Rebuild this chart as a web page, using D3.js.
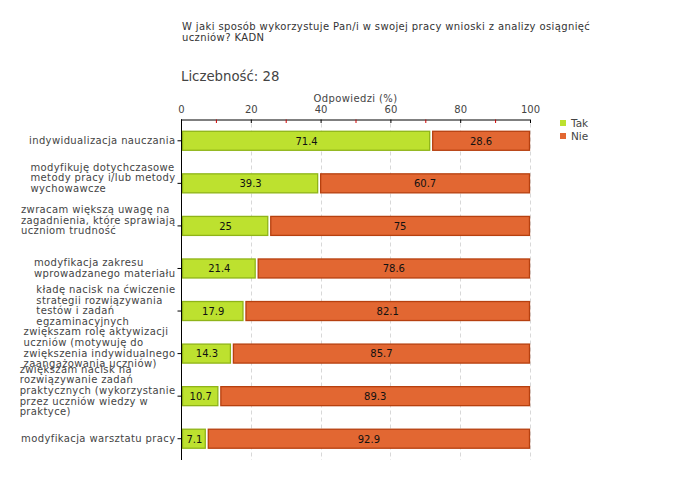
<!DOCTYPE html>
<html><head><meta charset="utf-8">
<script src="https://cdn.jsdelivr.net/npm/d3@7"></script>
<style>body{margin:0;background:#fff}svg{display:block}text{font-family:"DejaVu Sans",sans-serif}</style>
</head><body><svg id="c" width="680" height="480"></svg>
<script>
const titleLines = ["W jaki sposób wykorzystuje Pan/i w swojej pracy wnioski z analizy osiągnięć", "uczniów? KADN"];
const countLabel = "Liczebność: 28";
const axisTitle = "Odpowiedzi (%)";
const categories = [
  "indywidualizacja nauczania",
  "modyfikuję dotychczasowe\nmetody pracy i/lub metody\nwychowawcze",
  "zwracam większą uwagę na\nzagadnienia, które sprawiają\nuczniom trudność",
  "modyfikacja zakresu\nwprowadzanego materiału",
  "kładę nacisk na ćwiczenie\nstrategii rozwiązywania\ntestów i zadań\negzaminacyjnych",
  "zwiększam rolę aktywizacji\nuczniów (motywuję do\nzwiększenia indywidualnego\nzaangażowania uczniów)",
  "zwiększam nacisk na\nrozwiązywanie zadań\npraktycznych (wykorzystanie\nprzez uczniów wiedzy w\npraktyce)",
  "modyfikacja warsztatu pracy"
];
const seriesNames = ["Tak", "Nie"];
const tak = [71.4, 39.3, 25, 21.4, 17.9, 14.3, 10.7, 7.1];
const nie = [28.6, 60.7, 75, 78.6, 82.1, 85.7, 89.3, 92.9];
const majorTicks = [0, 20, 40, 60, 80, 100];
const minorTicks = [10, 30, 50, 70, 90];

const colors = {Tak: {fill: "#bde12f", stroke: "#8fb418"}, Nie: {fill: "#e26732", stroke: "#b6400f"}};
const svg = d3.select("#c");
const pLeft = 181, pRight = 530, pTop = 119.5, pBottom = 460;
const x = d3.scaleLinear().domain([0, 100]).range([pLeft, pRight]);
const y = d3.scaleBand().domain(d3.range(categories.length)).range([pTop, pBottom]);
const barH = 20;
const ls = "0.38px";

// titles
svg.append("text").attr("x", 182).attr("y", 29.5).attr("fill", "#333").style("font-size", "10px").style("letter-spacing", ls)
  .selectAll("tspan").data(titleLines).join("tspan").attr("x", 182).attr("dy", (d, i) => i ? 11.8 : 0).text(d => d);
svg.append("text").attr("x", 181).attr("y", 81).attr("fill", "#444").style("font-size", "13.3px").text(countLabel);
svg.append("text").attr("x", (pLeft + pRight) / 2).attr("y", 102).attr("text-anchor", "middle")
  .attr("fill", "#444").style("font-size", "10px").style("letter-spacing", ls).text(axisTitle);

// grid
svg.append("g").selectAll("line").data(majorTicks.filter(d => d > 0)).join("line")
  .attr("x1", d => Math.round(x(d)) + 0.5).attr("x2", d => Math.round(x(d)) + 0.5)
  .attr("y1", pTop + 4).attr("y2", pBottom)
  .attr("stroke", "#d8d8d8").attr("stroke-dasharray", "4,3");

// bars
const stacked = tak.map((t, i) => [{s: "Tak", x0: 0, x1: t, v: t}, {s: "Nie", x0: t, x1: t + nie[i], v: nie[i]}]);
const rows = svg.append("g").selectAll("g").data(stacked).join("g")
  .attr("transform", (d, i) => `translate(0,${y(i) + y.bandwidth() / 2 - barH / 2})`);
rows.selectAll("rect").data(d => d).join("rect")
  .attr("x", d => x(d.x0) + (d.s === "Tak" ? 1.5 : 2.5))
  .attr("width", d => x(d.x1) - x(d.x0) - (d.s === "Tak" ? 2 : 3))
  .attr("y", 0.5).attr("height", barH - 1)
  .attr("fill", d => colors[d.s].fill).attr("stroke", d => colors[d.s].stroke).attr("stroke-width", 1.3);
rows.selectAll("text").data(d => d).join("text")
  .attr("x", d => (x(d.x0) + x(d.x1)) / 2 + 1).attr("y", barH / 2 + 3.8)
  .attr("text-anchor", "middle").attr("fill", "#111").style("font-size", "10px").text(d => d.v);

// top axis
const ax = svg.append("g").attr("transform", `translate(0,${pTop})`)
  .call(d3.axisTop(x).tickValues(majorTicks).tickSize(-3.5).tickPadding(7).tickFormat(d3.format("d")));
ax.select(".domain").attr("stroke", "#000").attr("d", `M${pLeft},0.5H${pRight}`);
ax.selectAll(".tick line").attr("stroke", "#000");
ax.selectAll(".tick text").attr("fill", "#444").style("font-size", "10px").style("font-family", "DejaVu Sans");
const mx = svg.append("g").attr("transform", `translate(0,${pTop})`)
  .call(d3.axisTop(x).tickValues(minorTicks).tickSize(-3.5).tickFormat(""));
mx.select(".domain").remove();
mx.selectAll(".tick line").attr("stroke", "#cc0000");

// left axis
const ay = svg.append("g").attr("transform", `translate(${pLeft + 0.5},0)`)
  .call(d3.axisLeft(y).tickSize(4).tickFormat(""));
ay.select(".domain").attr("stroke", "#000").attr("d", `M0,${pTop}V${pBottom}`);
ay.selectAll(".tick line").attr("stroke", "#000");

// category labels
const lh = 10.6;
categories.forEach((c, i) => {
  const lines = c.split("\n");
  const n = lines.length;
  const cy = y(i) + y.bandwidth() / 2 + (n >= 3 ? -5 : 0);
  const t = svg.append("text").attr("fill", "#444").style("font-size", "10px").style("letter-spacing", ls);
  t.selectAll("tspan").data(lines).join("tspan")
    .attr("dy", (d, j) => j ? lh : 0).text(d => d);
  let w = 0;
  t.selectAll("tspan").each(function () { w = Math.max(w, this.getComputedTextLength()); });
  const x0 = 175.5 - w;
  t.attr("y", cy - (n - 1) * lh / 2 + 2.8);
  t.selectAll("tspan").attr("x", x0);
});

// legend
const lg = svg.append("g").selectAll("g").data(seriesNames).join("g")
  .attr("transform", (d, i) => `translate(560,${120 + i * 13})`);
lg.append("rect").attr("width", 6).attr("height", 6).attr("fill", d => colors[d].fill);
lg.append("text").attr("x", 11).attr("y", 7).attr("fill", "#444").style("font-size", "10.5px").text(d => d);
</script></body></html>
